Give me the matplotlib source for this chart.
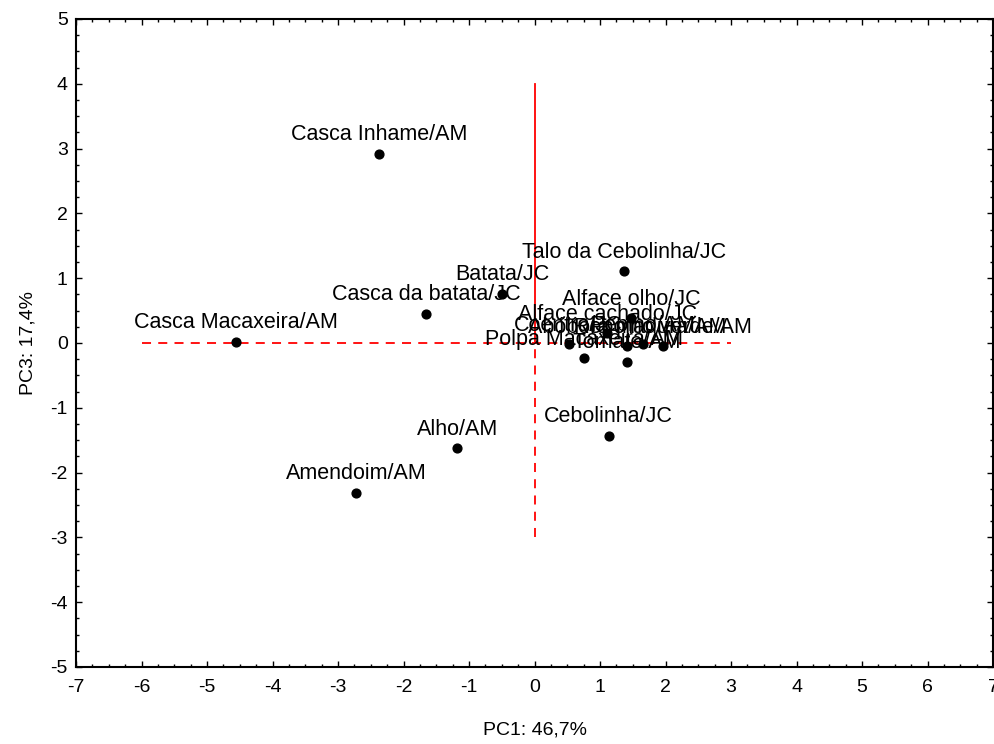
import matplotlib.pyplot as plt
from matplotlib.ticker import MultipleLocator

plt.rcParams['font.family'] = ['Liberation Sans', 'DejaVu Sans']
plt.rcParams['axes.unicode_minus'] = False

# sample scores (PC1, PC3)
names = ['Casca Inhame/AM', 'Casca Macaxeira/AM', 'Casca da batata/JC', 'Batata/JC',
         'Talo da Cebolinha/JC', 'Alface olho/JC', 'Alface cachado/JC', 'Coentro/JC',
         'Abóbora madura/AM', 'Pepino/AM', 'Repolho verde/AM', 'Polpa Macaxeira/AM',
         'Tomate/AM', 'Cebolinha/JC', 'Alho/AM', 'Amendoim/AM']
pc1 = [-2.37, -4.56, -1.65, -0.49, 1.37, 1.48, 1.11, 0.52,
       1.41, 1.65, 1.96, 0.76, 1.41, 1.13, -1.18, -2.72]
pc3 = [2.92, 0.02, 0.45, 0.76, 1.11, 0.38, 0.15, -0.02,
       -0.05, -0.02, -0.05, -0.23, -0.29, -1.43, -1.62, -2.31]

fig = plt.figure(figsize=(9.95, 7.44), dpi=100)
ax = fig.add_axes([0.0764, 0.1035, 0.9216, 0.871])

# reference lines
ax.plot([-6, 3], [0, 0], color='red', linestyle='--', linewidth=1.3, dashes=(5, 4))
ax.plot([0, 0], [0, 4], color='red', linewidth=1.3)
ax.plot([0, 0], [-3, 0], color='red', linestyle='--', linewidth=1.3, dashes=(5, 4))

ax.scatter(pc1, pc3, s=40, color='black', zorder=3)
for n, x, y in zip(names, pc1, pc3):
    ax.annotate(n, (x, y), textcoords='offset points', xytext=(0, 6),
                ha='center', va='bottom', fontsize=15.5, color='black')

ax.set_xlim(-7, 7)
ax.set_ylim(-5, 5)
ax.xaxis.set_major_locator(MultipleLocator(1))
ax.yaxis.set_major_locator(MultipleLocator(1))
ax.xaxis.set_minor_locator(MultipleLocator(0.25))
ax.yaxis.set_minor_locator(MultipleLocator(0.25))
ax.tick_params(which='both', direction='in', top=True, right=True, labelsize=14)
ax.tick_params(which='major', length=4, width=1)
ax.tick_params(which='minor', length=2, width=1)
ax.tick_params(axis='x', pad=9)
ax.tick_params(axis='y', pad=6)
for sp in ax.spines.values():
    sp.set_linewidth(1.5)

ax.set_xlabel('PC1: 46,7%', fontsize=14, labelpad=18)
ax.set_ylabel('PC3: 17,4%', fontsize=14, labelpad=10)

fig.savefig('out.png', dpi=100)
